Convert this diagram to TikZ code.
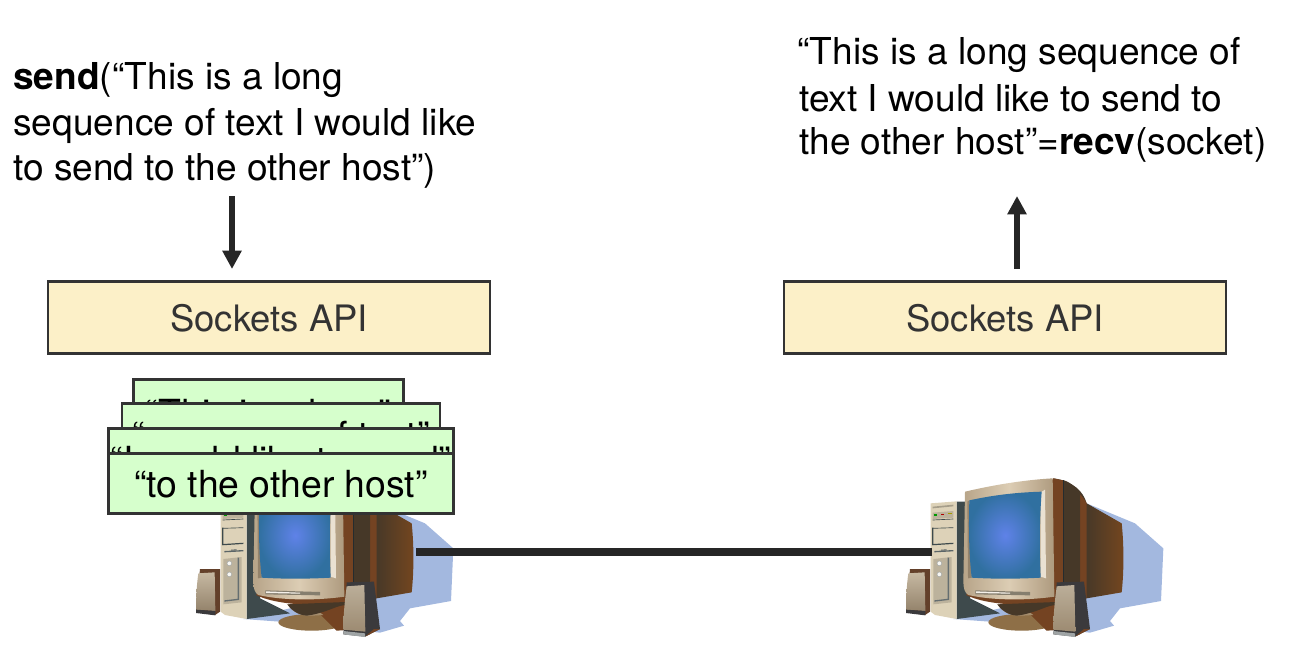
\documentclass[tikz,border=0pt]{standalone}
\usepackage{fontspec}
\setmainfont{TeX Gyre Heros}
\usetikzlibrary{arrows.meta}
\definecolor{cream}{HTML}{FCF0C8}
\definecolor{mint}{HTML}{D6FFCC}
\definecolor{edge}{HTML}{333333}
\definecolor{inkline}{HTML}{262626}
\definecolor{shadowb}{HTML}{A3B8DF}
\definecolor{bezelA}{HTML}{DCCDB4}
\definecolor{bezelB}{HTML}{AE9A7E}
\definecolor{backA}{HTML}{463828}
\definecolor{backB}{HTML}{74461F}
\definecolor{rust}{HTML}{744322}
\definecolor{standc}{HTML}{8E6F47}
\definecolor{towerf}{HTML}{DDD2B8}
\definecolor{towers}{HTML}{3E4A4C}
\definecolor{spkdark}{HTML}{3B3A3C}
\tikzset{
  apibox/.style={draw=edge,line width=2.2pt,fill=cream,minimum width=331.5pt,minimum height=54.5pt,inner sep=0pt,text=edge,font=\fontsize{27.3}{32}\selectfont},
  chunk/.style={draw=edge,line width=2.2pt,fill=mint,minimum height=45pt,inner sep=0pt,font=\fontsize{28}{32}\selectfont},
  prose/.style={align=left,inner sep=0pt,font=\fontsize{27.8}{33.6}\selectfont},
  flow/.style={draw=inkline,line width=4.5pt,-{Triangle[length=13.7pt,width=13.7pt]}},
  wire/.style={draw=inkline,line width=6pt}
}
\newcommand{\lowered}[2]{\smash{\raisebox{-#1}{#2}}}
\newcommand{\desktop}[1]{%
\begin{scope}[shift={(#1,465)},x=0.25pt,y=-0.25pt]
  % shadow
  \fill[shadowb] (590,115) -- (735,175) -- (820,250) -- (813,408) -- (690,430) -- (660,468) -- (672,482) -- (600,503) -- (300,470) -- (190,462) -- (330,430) -- cycle;
  % stand
  \fill[standc] (395,472) ellipse [x radius=100,y radius=25];
  \fill[rust] (380,420) -- (500,410) -- (500,495) -- (470,497) .. controls (440,470) and (420,440) .. cycle;
  \fill[standc!80!white] (322,418) .. controls (340,445) and (370,455) .. (395,452) -- (430,450) .. controls (410,435) and (395,425) .. (385,415) -- cycle;
  % tower
  \fill[towers] (200,110) -- (240,110) -- (240,400) -- (330,445) -- (200,462) -- cycle;
  \fill[towerf] (122,115) -- (200,109) -- (200,462) -- (135,450) -- (122,440) -- cycle;
  \fill[towerf!75!black] (128,125) -- (190,119) -- (190,124) -- (128,130) -- cycle;
  \fill[towerf!85!black] (128,143) -- (190,138) -- (190,158) -- (128,162) -- cycle;
  \fill[green!60!black] (133,148) rectangle (142,152);
  \fill[red!70!black] (153,146) rectangle (162,150);
  \fill[olive!80!yellow] (175,144) rectangle (186,148);
  \draw[towers,line width=0.5pt] (128,165) -- (190,162) (128,190) -- (190,188);
  \draw[towers,line width=0.9pt] (128,240) -- (128,188) (128,239) -- (190,235);
  \fill[towers!85!white] (133,258) -- (190,255) -- (190,259) -- (133,262) -- cycle;
  \fill[towers!85!white] (153,254) -- (170,253) -- (170,256) -- (153,257) -- cycle;
  \fill[towerf!85!black] (130,282) -- (185,276) -- (185,412) -- (130,418) -- cycle;
  \draw[towers!80!white,line width=1pt] (175,278) -- (175,403) -- (133,408);
  \fill[white!80!towerf,draw=towers!50!white,line width=0.3pt] (148,295) circle [radius=7] (148,328) circle [radius=7];
  % monitor back
  \shade[left color=backA,right color=backB,middle color=backA] (490,40) .. controls (550,48) and (580,80) .. (590,115) -- (695,175) .. controls (702,240) and (702,320) .. (695,382) -- (590,400) -- (470,425) -- (490,40) -- cycle;
  \fill[rust] (570,88) .. controls (580,98) and (586,108) .. (590,115) -- (590,400) -- (570,404) -- cycle;
  \fill[rust] (490,40) -- (520,46) -- (520,410) -- (400,420) .. controls (330,418) and (270,410) .. (228,390) -- cycle;
  \fill[backA] (522,46) .. controls (545,54) and (560,70) .. (570,88) -- (570,404) -- (495,415) .. controls (440,440) and (400,450) .. (380,452) .. controls (350,450) and (330,430) .. (322,418) -- (522,410) -- cycle;
  \draw[towers!60!black,line width=0.5pt] (519,46) -- (519,352);
  % bezel
  \shade[left color=bezelB!80!bezelA,right color=bezelB,middle color=bezelA] (225,80) .. controls (310,60) and (400,45) .. (488,40) -- (493,395) .. controls (400,408) and (300,405) .. (235,390) .. controls (225,385) and (220,370) .. (220,350) -- cycle;
  \fill[white!40!bezelA] (452,82) -- (465,74) -- (468,340) -- (452,335) -- cycle;
  \fill[bezelB!85!black] (238,106) -- (232,110) -- (234,340) -- (245,338) -- cycle;
  % screen
  \shade[inner color={rgb,255:red,95;green,130;blue,232},outer color={rgb,255:red,48;green,112;blue,160}] (238,106) .. controls (320,88) and (390,82) .. (455,80) .. controls (448,170) and (448,250) .. (452,338) .. controls (380,342) and (310,342) .. (245,338) .. controls (236,260) and (236,180) .. (238,106) -- cycle;
  % buttons
  \fill[towerf!60!black] (256,376) -- (420,381) -- (420,391) -- (256,388) -- cycle;
  \fill[white!70!bezelA] (258,379) -- (360,383) -- (360,386) -- (258,384) -- cycle;
  % left speaker
  \fill[rust!70!spkdark] (60,312) -- (120,312) -- (120,440) -- (105,450) -- (48,440) -- cycle;
  \shade[top color=bezelA!90!black,bottom color=bezelB!85!black] (55,325) -- (104,322) -- (106,438) -- (48,434) .. controls (48,400) and (50,360) .. (55,325) -- cycle;
  \fill[spkdark] (48,434) -- (106,438) -- (106,451) -- (48,444) -- cycle;
  % right speaker
  \fill[spkdark] (500,352) -- (582,350) -- (600,492) -- (555,515) -- (490,508) -- cycle;
  \fill[rust] (582,492) -- (600,492) -- (555,515) -- cycle;
  \shade[top color=bezelA!85!black,bottom color=bezelB!90!black] (500,364) -- (553,360) -- (556,500) -- (490,494) .. controls (490,450) and (494,410) .. (500,364) -- cycle;
  \fill[towers!50!white] (490,498) -- (555,505) -- (555,516) -- (490,508) -- cycle;
\end{scope}}
\begin{document}
\begin{tikzpicture}[x=0.75pt,y=-0.75pt]
\useasboundingbox (0,0) rectangle (1294,668);
\desktop{180}
\desktop{890}
\coordinate (pcA) at (416,551.5);
\coordinate (pcB) at (932,551.5);
\draw[wire] (pcA) -- (pcB);
\node[prose,anchor=north west] (sendtxt) at (13,62) {\textbf{send}(“This is a long\\[1pt]sequence of text I would like\\to send to the other host”)};
\node[prose,anchor=north west] (recvtxt) at (799,37) {\kern-1.5pt“This is a long sequence of\\[1.5pt]text I would like to send to\\[-1.5pt]the other host”=\textbf{recv}(socket)};
\node[apibox] (apiA) at (269,317.5) {\lowered{10.2pt}{Sockets API}};
\node[apibox] (apiB) at (1005,317.5) {\lowered{10.2pt}{Sockets API}};
\coordinate (downS) at (232,196);
\coordinate (downE) at (232,269);
\coordinate (upS) at (1017,269);
\coordinate (upE) at (1017,196);
\draw[flow] (downS) -- (downE);
\draw[flow] (upS) -- (upE);
\node[chunk,minimum width=203pt] (c1) at (268.5,409.5) {\lowered{12.6pt}{“This is a long”}};
\node[chunk,minimum width=238.5pt] (c2) at (281,433.5) {\lowered{11.4pt}{“sequence of text”}};
\node[chunk,minimum width=258.5pt] (c3) at (281,458.5) {\lowered{11pt}{“I would like to send”}};
\node[chunk,minimum width=258.5pt] (c4) at (281,483.5) {\lowered{10.6pt}{“to the other host”}};
\end{tikzpicture}
\end{document}
